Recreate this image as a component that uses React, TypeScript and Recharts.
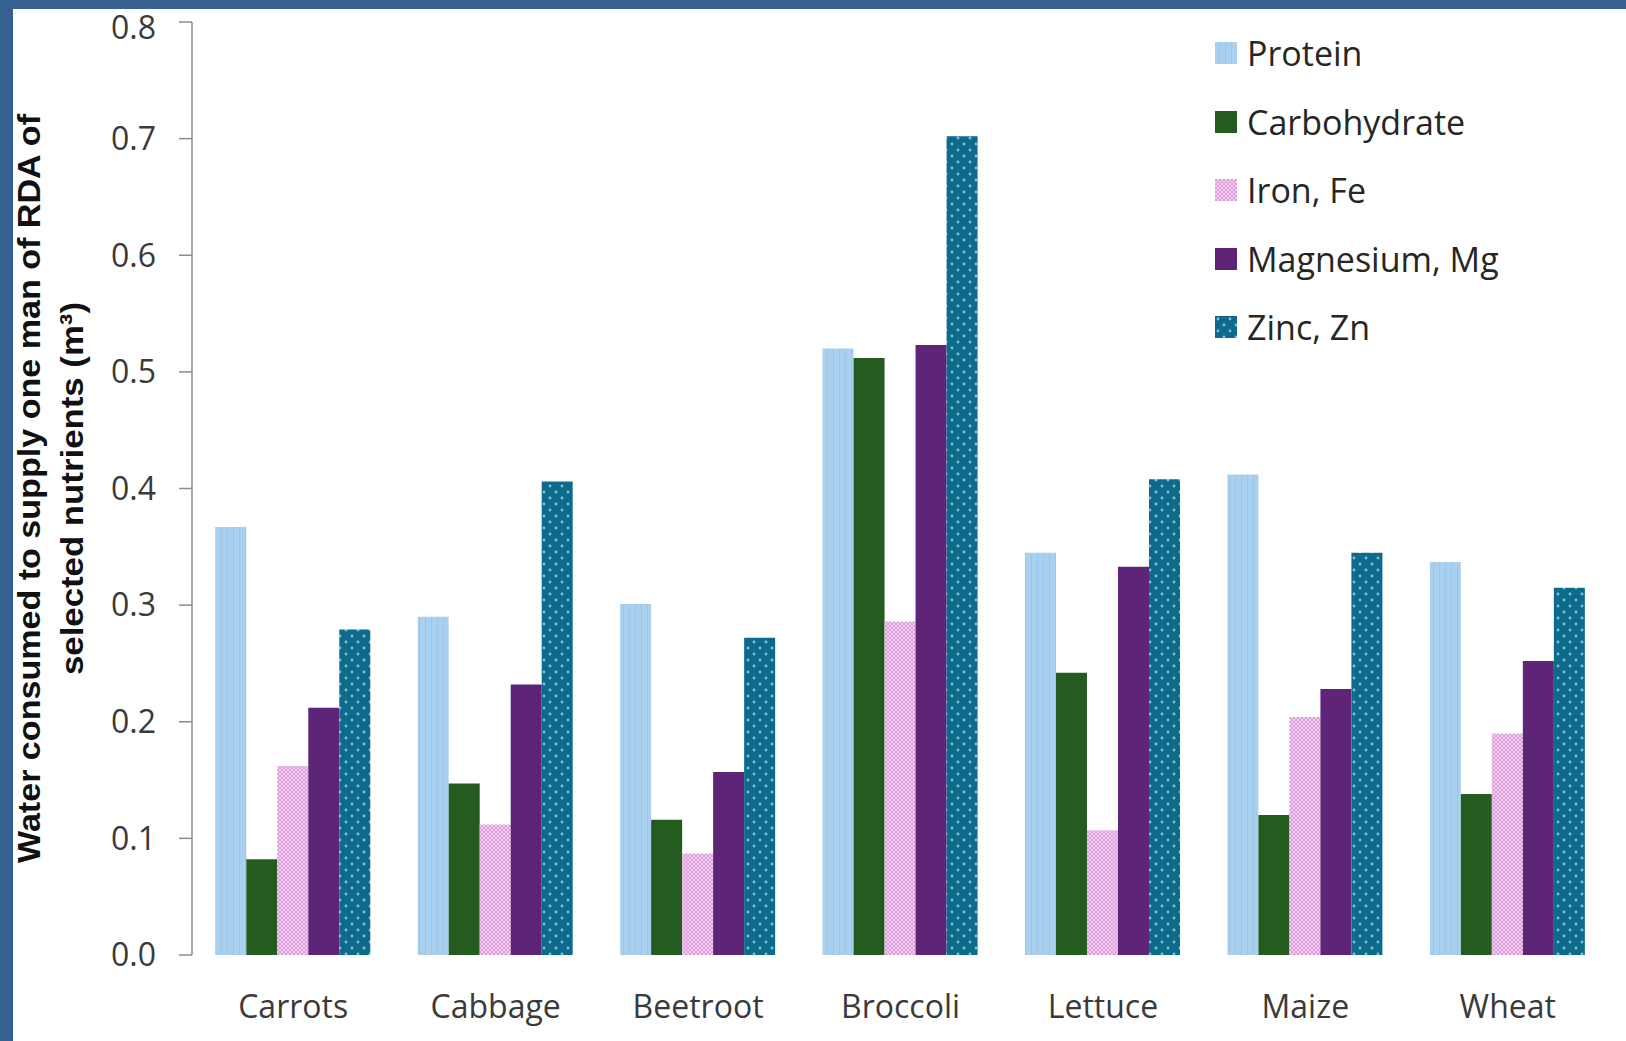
import React from 'react';
import { BarChart, Bar, XAxis, YAxis, Legend } from 'recharts';

const crops = ['Carrots', 'Cabbage', 'Beetroot', 'Broccoli', 'Lettuce', 'Maize', 'Wheat'];
const protein = [0.367, 0.29, 0.301, 0.52, 0.345, 0.412, 0.337];
const carbohydrate = [0.082, 0.147, 0.116, 0.512, 0.242, 0.12, 0.138];
const iron = [0.162, 0.112, 0.087, 0.286, 0.107, 0.204, 0.19];
const magnesium = [0.212, 0.232, 0.157, 0.523, 0.333, 0.228, 0.252];
const zinc = [0.279, 0.406, 0.272, 0.702, 0.408, 0.345, 0.315];
const yTicks = [0, 0.1, 0.2, 0.3, 0.4, 0.5, 0.6, 0.7, 0.8];
const edgeTicks = [0, 1, 2, 3, 4, 5, 6, 7];

const series = [
  { key: 'protein', name: 'Protein', fill: 'url(#patProtein)' },
  { key: 'carbohydrate', name: 'Carbohydrate', fill: '#235c1e' },
  { key: 'iron', name: 'Iron, Fe', fill: 'url(#patIron)' },
  { key: 'magnesium', name: 'Magnesium, Mg', fill: '#5d2478' },
  { key: 'zinc', name: 'Zinc, Zn', fill: 'url(#patZinc)' },
];

const data = crops.map((name, i) => ({
  name,
  protein: protein[i],
  carbohydrate: carbohydrate[i],
  iron: iron[i],
  magnesium: magnesium[i],
  zinc: zinc[i],
}));

const tickFont = { fontFamily: 'Open Sans', fontSize: 32, fill: '#3a3a3a' };

// patterns live in their own svg so every fill="url(#...)" on the page can find them
const Patterns = () => (
  <svg width={0} height={0} style={{ position: 'absolute' }}>
    <defs>
      <pattern id="patProtein" width={6} height={6} patternUnits="userSpaceOnUse">
        <rect width={6} height={6} fill="#a9d1ef" />
        <rect x={4} width={1} height={6} fill="#9cc6e8" />
      </pattern>
      <pattern id="patIron" width={4} height={4} patternUnits="userSpaceOnUse">
        <rect width={4} height={4} fill="#f0cdf0" />
        <rect width={2} height={2} fill="#dc9fdc" />
        <rect x={2} y={2} width={2} height={2} fill="#dc9fdc" />
      </pattern>
      <pattern id="patZinc" width={12} height={12} patternUnits="userSpaceOnUse">
        <rect width={12} height={12} fill="#0d6a8a" />
        <circle cx={3} cy={3} r={1.4} fill="#7cc2da" />
        <circle cx={9} cy={9} r={1.4} fill="#7cc2da" />
      </pattern>
    </defs>
  </svg>
);

const LegendBox = () => (
  <div style={{ fontFamily: 'Open Sans', fontSize: 34, color: '#262626' }}>
    {series.map((s) => (
      <div key={s.key} style={{ height: 68.5, display: 'flex', alignItems: 'center' }}>
        <svg width={22} height={22} style={{ marginRight: 10 }}>
          <rect width={22} height={22} fill={s.fill} />
        </svg>
        <span>{s.name}</span>
      </div>
    ))}
  </div>
);

const YLabel = (props: any) => {
  const vb = props.viewBox || { x: 0, y: 0, width: 0, height: 0 };
  const cy = vb.y + vb.height / 2;
  const style = { fontFamily: 'Liberation Sans', fontWeight: 700, fontSize: 32, fill: '#111' };
  return (
    <g>
      <text
        x={16}
        y={cy}
        transform={`rotate(-90 16 ${cy})`}
        textAnchor="middle"
        dominantBaseline="central"
        textLength={749}
        lengthAdjust="spacingAndGlyphs"
        style={style}
      >
        Water consumed to supply one man of RDA of
      </text>
      <text
        x={59}
        y={cy}
        transform={`rotate(-90 59 ${cy})`}
        textAnchor="middle"
        dominantBaseline="central"
        textLength={373}
        lengthAdjust="spacingAndGlyphs"
        style={style}
      >
        selected nutrients (m³)
      </text>
    </g>
  );
};

export default function App() {
  return (
    <div style={{ position: 'absolute', left: 0, top: 0, width: 1626, height: 1041, background: '#35608f' }}>
      <Patterns />
      <div style={{ position: 'absolute', left: 13, top: 9, width: 1613, height: 1032, background: '#ffffff' }}>
        <BarChart
          width={1613}
          height={1032}
          data={data}
          margin={{ top: 13, right: 17, bottom: 0, left: 0 }}
          barCategoryGap="11.5%"
          barGap={0}
        >
          <XAxis
            xAxisId="edge"
            type="number"
            domain={[0, 7]}
            ticks={edgeTicks}
            height={0}
            tick={() => <g />}
            tickSize={12}
            tickLine={{ stroke: '#8c8c8c', strokeWidth: 1.5 }}
            axisLine={{ stroke: '#8c8c8c', strokeWidth: 1.5 }}
          />
          <XAxis
            xAxisId="cat"
            dataKey="name"
            height={86}
            axisLine={false}
            tickLine={false}
            tickSize={0}
            tickMargin={40}
            tick={tickFont}
            interval={0}
          />
          <YAxis
            width={179}
            domain={[0, 0.8]}
            ticks={yTicks}
            tickFormatter={(v: number) => v.toFixed(1)}
            tick={tickFont}
            tickSize={13}
            tickMargin={23}
            tickLine={{ stroke: '#8c8c8c', strokeWidth: 1.5 }}
            axisLine={{ stroke: '#8c8c8c', strokeWidth: 1.5 }}
            label={<YLabel />}
          />
          <Legend
            layout="vertical"
            align="center"
            verticalAlign="middle"
            content={<LegendBox />}
            wrapperStyle={{ left: 1202, top: 10, width: 380, height: 350 }}
          />
          {series.map((s) => (
            <Bar key={s.key} xAxisId="cat" dataKey={s.key} name={s.name} fill={s.fill} isAnimationActive={false} />
          ))}
        </BarChart>
      </div>
    </div>
  );
}
